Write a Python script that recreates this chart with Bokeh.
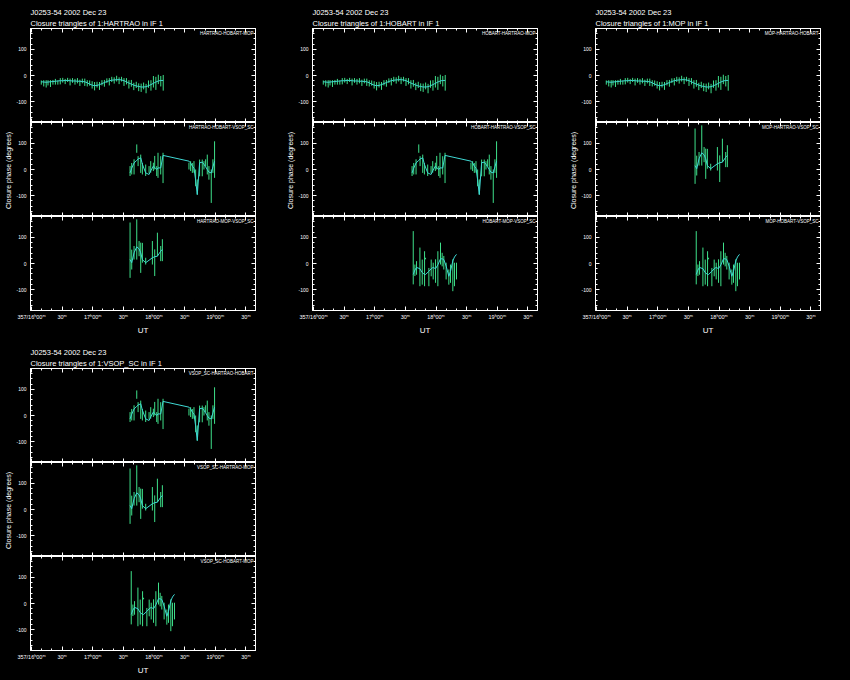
import numpy as np
from bokeh.plotting import figure
from bokeh.models import ColumnDataSource, LinearAxis, FixedTicker, Range1d, Title, Label
from bokeh.layouts import column, row
from bokeh.embed import file_html
from bokeh.resources import INLINE

# ---------------- data (UT hours, closure phase in degrees) ----------------
A_T = [16.16, 16.20, 16.24, 16.27, 16.31, 16.35, 16.39, 16.43, 16.47, 16.51, 16.55, 16.59, 16.63,
       16.67, 16.71, 16.75, 16.79, 16.83, 16.87, 16.91, 16.95, 16.99, 17.03, 17.07, 17.11, 17.15,
       17.19, 17.23, 17.27, 17.31, 17.35, 17.39, 17.43, 17.47, 17.51, 17.55, 17.59, 17.63, 17.67,
       17.71, 17.75, 17.79, 17.83, 17.87, 17.91, 17.95, 17.99, 18.03, 18.07, 18.11, 18.15]
A_VAL = [-27, -30, -32, -28, -31, -26, -24, -27, -22, -18, -23, -17, -25, -19, -24, -20, -28, -21,
         -26, -30, -29, -36, -41, -35, -40, -28, -30, -20, -24, -15, -19, -12, -20, -14, -25, -22,
         -34, -30, -42, -36, -45, -47, -40, -50, -33, -38, -24, -30, -15, -22, -28]
A_ERR = [8, 12, 14, 10, 13, 9, 11, 8, 12, 9, 10, 8, 13, 9, 11, 10, 12, 9, 14, 12, 10, 14, 16, 11,
         15, 10, 13, 9, 14, 10, 12, 11, 13, 9, 15, 12, 16, 13, 14, 12, 15, 16, 13, 18, 14, 20, 22,
         25, 18, 20, 30]
A_MODEL = [-24, -25, -26, -25, -24, -23, -22, -21, -20, -20, -19, -19, -20, -21, -21, -22, -22, -23,
           -24, -28, -33, -37, -39, -38, -35, -31, -27, -23, -20, -18, -17, -16, -16, -17, -20, -24,
           -29, -33, -37, -40, -42, -44, -44, -43, -39, -35, -30, -25, -21, -19, -19]

B_T = [17.609, 17.636, 17.674, 17.718, 17.740, 17.783, 17.810, 17.864, 17.919, 17.946, 17.989,
       18.011, 18.044, 18.065, 18.109, 18.147, 18.570, 18.597, 18.625, 18.652, 18.679, 18.706,
       18.744, 18.787, 18.815, 18.842, 18.869, 18.896, 18.934, 18.961, 18.988]
B_VAL = [-6, 3, 10, 80, 32, 22, 3, -3, 0, 10, 10, 26, -6, 16, 16, 6, 13, 13, 6, 10, -32, -67, 6, 6,
         16, 26, 19, -13, -64, 13, 38]
B_ERR = [19, 22, 29, 16, 19, 35, 22, 22, 13, 22, 16, 26, 19, 48, 35, 58, 13, 19, 19, 22, 32, 29, 32,
         32, 16, 13, 38, 26, 64, 26, 70]
B_MODEL = [-13, 5, 25, 35, 40, 45, 20, -13, -19, -5, 13, 8, 0, 6, 6, 54, 32, 25, 13, 5, -40, -96,
           26, 28, 20, 10, 0, -10, -13, 10, 32]

C_T = [17.609, 17.636, 17.674, 17.718, 17.756, 17.783, 17.810, 17.864, 17.973, 18.011, 18.055,
       18.109, 18.136]
C_VAL = [51, 15, 41, 92, 57, 22, 41, 9, 41, 3, 73, 38, 51]
C_ERR = [106, 38, 26, 77, 29, 58, 38, 13, 45, 51, 45, 29, 42]
C_MODEL = [15, 3, 41, 64, 56, 41, 15, 3, 22, 26, 28, 47, 54]

D_T = [17.628, 17.655, 17.682, 17.737, 17.775, 17.813, 17.829, 17.883, 17.921, 17.954, 17.992,
       18.030, 18.073, 18.100, 18.127, 18.165, 18.209, 18.236, 18.274, 18.301, 18.334]
D_VAL = [22, -26, -17, -13, -33, -20, 19, -52, -17, -29, -29, -20, 38, 15, 3, -29, -52, -39, -45,
         -42, -29]
D_ERR = [102, 22, 26, 74, 48, 67, 3, 35, 32, 32, 45, 67, 42, 26, 26, 32, 29, 35, 61, 45, 32]
D_MODEL = [-42, -25, -15, -20, -35, -42, -42, -30, -20, -15, -20, -5, 18, 18, 15, -10, -49, -30,
           10, 25, 35]

X_TICKS = [16.0, 16.5, 17.0, 17.5, 18.0, 18.5, 19.0, 19.5]
X_TICK_LABELS = ["357/16\u02b000\u1d50", "30\u1d50", "17\u02b000\u1d50", "30\u1d50",
                 "18\u02b000\u1d50", "30\u1d50", "19\u02b000\u1d50", "30\u1d50"]
Y_TICKS = [-100, 0, 100]
Y_TICK_LABELS = ["-100", "0", "100"]

SOURCE_NAME = "J0253-54  2002 Dec 23"
GROUPS = [
    ("HARTRAO", ["A", "B", "C"], ["HARTRAO-HOBART-MOP", "HARTRAO-HOBART-VSOP_SC", "HARTRAO-MOP-VSOP_SC"]),
    ("HOBART", ["A", "B", "D"], ["HOBART-HARTRAO-MOP", "HOBART-HARTRAO-VSOP_SC", "HOBART-MOP-VSOP_SC"]),
    ("MOP", ["A", "C", "D"], ["MOP-HARTRAO-HOBART", "MOP-HARTRAO-VSOP_SC", "MOP-HOBART-VSOP_SC"]),
    ("VSOP_SC", ["B", "C", "D"], ["VSOP_SC-HARTRAO-HOBART", "VSOP_SC-HARTRAO-MOP", "VSOP_SC-HOBART-MOP"]),
]

DATA = {
    "A": (A_T, A_VAL, A_ERR, A_MODEL),
    "B": (B_T, B_VAL, B_ERR, B_MODEL),
    "C": (C_T, C_VAL, C_ERR, C_MODEL),
    "D": (D_T, D_VAL, D_ERR, D_MODEL),
}

# ---------------- styling ----------------
X_START, X_END = 15.984, 19.656
Y_START, Y_END = -180, 180
FW, FH = 225, 94
BL = 30
TOP_B = 28
GREEN = "#3ee08a"
CYAN = "#3fd9d4"
FONT = "Liberation Sans"

x_minor = [16.0 + k / 6.0 for k in range(0, 22)]
y_minor = list(range(-180, 181, 20))


def style_axis(ax, labels):
    ax.axis_line_color = "white"
    ax.major_tick_line_color = "white"
    ax.minor_tick_line_color = "white"
    ax.major_tick_in = 4
    ax.major_tick_out = 0
    ax.minor_tick_in = 2
    ax.minor_tick_out = 0
    ax.major_label_text_font = FONT
    ax.axis_label_text_color = "white"
    ax.axis_label_text_font = FONT
    ax.axis_label_text_font_style = "normal"
    if labels:
        ax.major_label_text_color = "white"
    else:
        ax.major_label_text_color = None
        ax.major_label_text_font_size = "1px"
        ax.major_label_standoff = 0


def make_panel(key, tri_label, station, pos, bottom_border, right_border):
    T, V, E, M = DATA[key]
    v = np.array(V, dtype=float)
    e = np.array(E, dtype=float)
    src = ColumnDataSource(dict(t=T, lo=v - e, hi=v + e, m=M))
    p = figure(frame_width=FW, frame_height=FH,
               x_range=Range1d(X_START, X_END), y_range=Range1d(Y_START, Y_END),
               output_backend="svg", toolbar_location=None, title=None,
               min_border_left=BL, min_border_right=right_border,
               min_border_top=TOP_B if pos == 0 else 0,
               min_border_bottom=bottom_border if pos == 2 else 0,
               background_fill_color="black", border_fill_color="black",
               outline_line_color="white", outline_line_width=1)
    p.grid.visible = False

    bx = p.xaxis[0]
    bx.ticker = FixedTicker(ticks=X_TICKS, minor_ticks=x_minor)
    ly = p.yaxis[0]
    ly.ticker = FixedTicker(ticks=Y_TICKS, minor_ticks=y_minor)
    style_axis(ly, True)
    ly.major_label_overrides = dict(zip(Y_TICKS, Y_TICK_LABELS))
    ly.major_label_text_font_size = "5px"
    ly.major_label_standoff = 4
    if pos == 1:
        ly.axis_label = "Closure phase  (degrees)"
        ly.axis_label_text_font_size = "7px"
        ly.axis_label_standoff = 1

    if pos == 2:
        style_axis(bx, True)
        bx.major_label_overrides = dict(zip(X_TICKS, X_TICK_LABELS))
        bx.major_label_text_font_size = "5.5px"
        bx.major_label_standoff = 3
        bx.axis_label = "UT"
        bx.axis_label_text_font_size = "8px"
        bx.axis_label_standoff = 3
    else:
        style_axis(bx, False)

    ra = LinearAxis(ticker=FixedTicker(ticks=Y_TICKS, minor_ticks=y_minor))
    style_axis(ra, False)
    p.add_layout(ra, "right")
    ta = LinearAxis(ticker=FixedTicker(ticks=X_TICKS, minor_ticks=x_minor))
    style_axis(ta, False)
    p.add_layout(ta, "above")

    if pos == 0:
        p.add_layout(Title(text="Closure triangles of 1:%s in IF 1" % station, align="left",
                           text_color="white", text_font=FONT, text_font_size="7.5px",
                           text_font_style="normal", standoff=1, offset=0), "above")
        p.add_layout(Title(text=SOURCE_NAME, align="left",
                           text_color="white", text_font=FONT, text_font_size="7.5px",
                           text_font_style="normal", standoff=0, offset=0), "above")

    p.segment(x0="t", y0="lo", x1="t", y1="hi", source=src, line_color=GREEN, line_width=1)
    p.line(x="t", y="m", source=src, line_color=CYAN, line_width=1)

    p.add_layout(Label(x=X_END, y=Y_END, x_offset=-2, y_offset=-2, text=tri_label,
                       text_align="right", text_baseline="top", text_color="white",
                       text_font=FONT, text_font_size="4.5px"))
    return p


def make_group(station, keys, labels, bottom_border, right_border):
    panels = [make_panel(k, lab, station, i, bottom_border, right_border)
              for i, (k, lab) in enumerate(zip(keys, labels))]
    return column(*panels, spacing=0)


g1 = make_group(GROUPS[0][0], GROUPS[0][1], GROUPS[0][2], 30, 27)
g2 = make_group(GROUPS[1][0], GROUPS[1][1], GROUPS[1][2], 30, 28)
g3 = make_group(GROUPS[2][0], GROUPS[2][1], GROUPS[2][2], 30, 25)
g4 = make_group(GROUPS[3][0], GROUPS[3][1], GROUPS[3][2], 28, 27)

layout = column(row(g1, g2, g3, spacing=0), g4, spacing=0)

html = file_html(layout, INLINE, title="Closure phases")
html = html.replace("</head>",
                    "<style>html, body { background-color: #000000 !important; }</style></head>", 1)
open("out.html", "w").write(html)
